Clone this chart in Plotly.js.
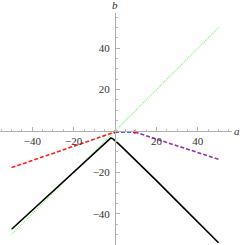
<!DOCTYPE html>
<html>
<head>
<meta charset="utf-8">
<script src="https://cdn.plot.ly/plotly-3.0.1.min.js"></script>
<style>html,body{margin:0;padding:0;background:#fff;}#chart{width:240px;height:245px;}</style>
</head>
<body>
<div id="chart"></div>
<script>
// Data
const greenA = [-50, 50];
const greenB = [-50, 50];
const redA = [-50, 0];
const redB = [-17.7, -0.5];
const blueA = [0, 9.5];
const blueB = [-0.5, -0.5];
const purpleA = [9.5, 50];
const purpleB = [-0.5, -13.7];
const dotA = [0, 9.5];
const dotB = [-0.5, -0.5];
const blackA = [-50, -40, -30, -20, -10, -5, -4, -3, -2, -1, 0, 2, 5, 10, 20, 30, 40, 50];
const blackB = [-47.5, -38.3, -29.1, -19.9, -10.7, -6.1, -5.0, -4.0, -3.4, -3.8, -4.6, -6.5, -9.4, -14.2, -24.0, -34.0, -44.0, -54.0];
const majorTicks = [-40, -20, 20, 40];
const tickLabels = ['\u221240', '\u221220', '20', '40'];

const xr = [-55.6, 56.5];
const yr = [-55.1, 57.0];

const traces = [
  {x: greenA, y: greenB, mode: 'lines', line: {color: 'rgb(135,238,135)', width: 1.2, dash: '1px,1px'}},
  {x: redA, y: redB, mode: 'lines', line: {color: 'rgb(255,30,30)', width: 1.6, dash: '4px,2px'}},
  {x: blueA, y: blueB, mode: 'lines', line: {color: 'rgb(30,30,255)', width: 1.6, dash: '4px,2px'}},
  {x: purpleA, y: purpleB, mode: 'lines', line: {color: 'rgb(150,50,170)', width: 1.6, dash: '4px,2px'}},
  {x: blackA, y: blackB, mode: 'lines', line: {color: '#000', width: 1.6}},
  {x: dotA, y: dotB, mode: 'markers', marker: {color: 'rgb(255,0,0)', size: 3.5}}
];

const axisCommon = {
  showgrid: false, zeroline: false, showline: true, linecolor: '#b0b0b0', linewidth: 1,
  ticks: 'inside', ticklen: 4, tickcolor: '#b0b0b0', tickwidth: 1,
  tickmode: 'array', tickvals: majorTicks, ticktext: tickLabels,
  tickfont: {family: 'Liberation Serif, Times New Roman, serif', size: 11, color: '#333'},
  minor: {ticks: 'inside', ticklen: 2, tickcolor: '#c0c0c0', tickmode: 'linear', tick0: 0, dtick: 5, showgrid: false},
  fixedrange: true
};

const layout = {
  width: 240, height: 245,
  margin: {l: 0, r: 8, t: 13, b: 0},
  paper_bgcolor: '#fff', plot_bgcolor: '#fff',
  showlegend: false,
  xaxis: Object.assign({}, axisCommon, {
    range: xr, anchor: 'free', position: (0 - yr[0]) / (yr[1] - yr[0]), side: 'bottom'
  }),
  yaxis: Object.assign({}, axisCommon, {
    range: yr, anchor: 'free', position: (0 - xr[0]) / (xr[1] - xr[0]), side: 'left', ticklabelstandoff: 3
  }),
  annotations: [
    {text: 'a', xref: 'paper', yref: 'y', x: 1, y: 0, xanchor: 'left', yanchor: 'middle', xshift: 0, showarrow: false,
     font: {family: 'Liberation Serif, Times New Roman, serif', size: 11, color: '#333', style: 'italic'}},
    {text: 'b', xref: 'x', yref: 'paper', x: 0, y: 1, xanchor: 'center', yanchor: 'bottom', yshift: 0, showarrow: false,
     font: {family: 'Liberation Serif, Times New Roman, serif', size: 11, color: '#333', style: 'italic'}}
  ]
};

Plotly.newPlot('chart', traces, layout, {staticPlot: true, displayModeBar: false});
</script>
</body>
</html>
